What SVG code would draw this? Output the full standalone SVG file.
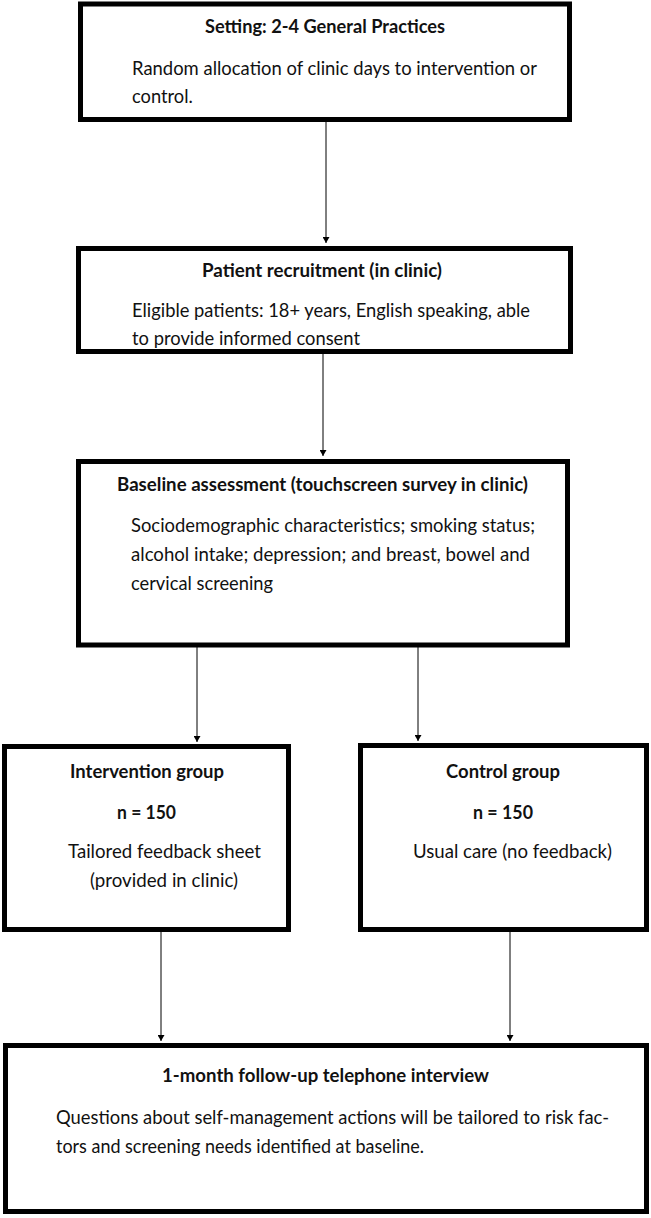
<svg xmlns="http://www.w3.org/2000/svg" width="651" height="1218" viewBox="0 0 651 1218">
<defs>
<marker id="ah" markerWidth="7" markerHeight="7" refX="6" refY="3.5" orient="auto" markerUnits="userSpaceOnUse">
<path d="M0,0 L6,3.5 L0,7 Z" fill="#000"/>
</marker>
<style>
.box{fill:#fff;stroke:#000;stroke-width:5}
.t{font-family:Lato,"Liberation Sans",sans-serif;font-size:18.3px;fill:#111}
.b{font-weight:bold;font-size:18.5px}
.conn{stroke:#000;stroke-width:1;fill:none;marker-end:url(#ah)}
</style>
</defs>
<rect width="651" height="1218" fill="#fff"/>
<g id="connectors">
<line class="conn" x1="326" y1="121" x2="326" y2="243"/>
<line class="conn" x1="323" y1="354" x2="323" y2="456"/>
<line class="conn" x1="197" y1="647" x2="197" y2="742"/>
<line class="conn" x1="418" y1="647" x2="418" y2="741"/>
<line class="conn" x1="161" y1="932" x2="161" y2="1041"/>
<line class="conn" x1="510" y1="932" x2="510" y2="1041"/>
</g>
<g id="n1">
<rect class="box" x="80.5" y="4" width="489" height="115.5"/>
<text class="t b" x="205" y="33" textLength="240" lengthAdjust="spacingAndGlyphs">Setting: 2-4 General Practices</text>
<text class="t" x="132" y="75" textLength="405" lengthAdjust="spacingAndGlyphs">Random allocation of clinic days to intervention or</text>
<text class="t" x="132" y="103">control.</text>
</g>
<g id="n2">
<rect class="box" x="78.5" y="248.5" width="492" height="103"/>
<text class="t b" x="202" y="277" textLength="240" lengthAdjust="spacingAndGlyphs">Patient recruitment (in clinic)</text>
<text class="t" x="132" y="317" textLength="398" lengthAdjust="spacingAndGlyphs">Eligible patients: 18+ years, English speaking, able</text>
<text class="t" x="132" y="345" textLength="228" lengthAdjust="spacingAndGlyphs">to provide informed consent</text>
</g>
<g id="n3">
<rect class="box" x="78.5" y="461.5" width="489" height="183.5"/>
<text class="t b" x="117" y="491" textLength="411" lengthAdjust="spacingAndGlyphs">Baseline assessment (touchscreen survey in clinic)</text>
<text class="t" x="131" y="532" textLength="404" lengthAdjust="spacingAndGlyphs">Sociodemographic characteristics; smoking status;</text>
<text class="t" x="131" y="561" textLength="399" lengthAdjust="spacingAndGlyphs">alcohol intake; depression; and breast, bowel and</text>
<text class="t" x="131" y="590" textLength="142" lengthAdjust="spacingAndGlyphs">cervical screening</text>
</g>
<g id="n4">
<rect class="box" x="4.5" y="746.5" width="284" height="183"/>
<text class="t b" x="70" y="778" textLength="154" lengthAdjust="spacingAndGlyphs">Intervention group</text>
<text class="t b" x="117" y="819" textLength="59" lengthAdjust="spacingAndGlyphs">n = 150</text>
<text class="t" x="68" y="858" textLength="193" lengthAdjust="spacingAndGlyphs">Tailored feedback sheet</text>
<text class="t" x="90" y="887" textLength="148" lengthAdjust="spacingAndGlyphs">(provided in clinic)</text>
</g>
<g id="n5">
<rect class="box" x="360.5" y="745.5" width="286" height="184"/>
<text class="t b" x="446" y="778" textLength="114" lengthAdjust="spacingAndGlyphs">Control group</text>
<text class="t b" x="473" y="819" textLength="60" lengthAdjust="spacingAndGlyphs">n = 150</text>
<text class="t" x="413" y="858" textLength="199" lengthAdjust="spacingAndGlyphs">Usual care (no feedback)</text>
</g>
<g id="n6">
<rect class="box" x="5.5" y="1045.5" width="641" height="166"/>
<text class="t b" x="162" y="1082" textLength="327" lengthAdjust="spacingAndGlyphs">1-month follow-up telephone interview</text>
<text class="t" x="56" y="1124" textLength="553" lengthAdjust="spacingAndGlyphs">Questions about self-management actions will be tailored to risk fac-</text>
<text class="t" x="56" y="1153" textLength="368" lengthAdjust="spacingAndGlyphs">tors and screening needs identified at baseline.</text>
</g>
</svg>
